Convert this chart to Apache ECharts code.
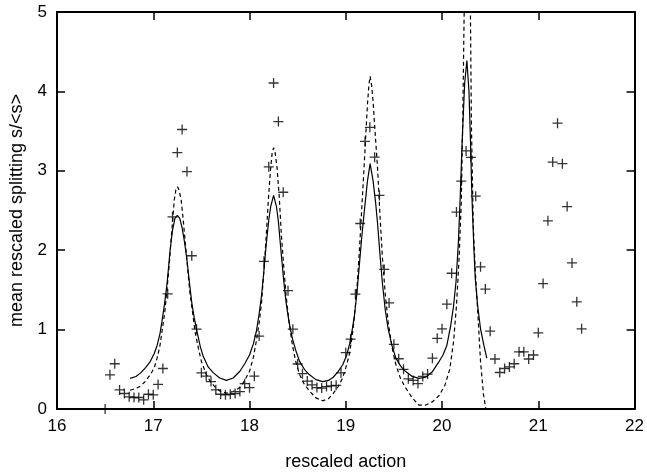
<!DOCTYPE html>
<html>
<head>
<meta charset="utf-8">
<script src="https://cdn.jsdelivr.net/npm/echarts@6/dist/echarts.min.js"></script>
<style>
html,body{margin:0;padding:0;background:#fff;}
#chart{width:647px;height:476px;}
</style>
</head>
<body>
<div id="chart"></div>
<script>
var xTicks = [16, 17, 18, 19, 20, 21, 22];
var yTicks = [0, 1, 2, 3, 4, 5];

var pointsX = [16.5,16.55,16.6,16.65,16.7,16.75,16.8,16.85,16.9,16.95,17.0,17.05,17.1,17.15,17.2,17.25,17.3,17.35,17.4,17.45,17.5,17.55,17.6,17.65,17.7,17.75,17.8,17.85,17.9,17.95,18.0,18.05,18.1,18.15,18.2,18.25,18.3,18.35,18.4,18.45,18.5,18.55,18.6,18.65,18.7,18.75,18.8,18.85,18.9,18.95,19.0,19.05,19.1,19.15,19.2,19.25,19.3,19.35,19.4,19.45,19.5,19.55,19.6,19.65,19.7,19.75,19.8,19.85,19.9,19.95,20.0,20.05,20.1,20.15,20.2,20.25,20.3,20.35,20.4,20.45,20.5,20.55,20.6,20.65,20.7,20.75,20.8,20.85,20.9,20.95,21.0,21.05,21.1,21.15,21.2,21.25,21.3,21.35,21.4,21.45];
var pointsY = [0.0,0.43,0.57,0.24,0.195,0.153,0.145,0.145,0.116,0.186,0.178,0.31,0.51,1.45,2.42,3.23,3.52,2.99,1.93,1.005,0.455,0.413,0.345,0.242,0.186,0.178,0.186,0.195,0.22,0.319,0.269,0.413,0.918,1.86,3.05,4.106,3.62,2.73,1.49,1.005,0.567,0.445,0.352,0.304,0.27,0.263,0.283,0.29,0.298,0.455,0.71,0.88,1.448,2.336,3.37,3.548,3.172,2.69,1.758,1.336,0.815,0.633,0.5,0.38,0.36,0.32,0.41,0.44,0.64,0.89,1.01,1.32,1.71,2.48,2.87,3.25,3.17,2.68,1.79,1.51,0.98,0.63,0.46,0.51,0.53,0.57,0.72,0.72,0.63,0.68,0.96,1.58,2.37,3.11,3.6,3.09,2.55,1.84,1.35,1.01];

var solidX = [16.76,16.82,16.87,16.92,16.97,17.01,17.04,17.07,17.09,17.12,17.145,17.175,17.2,17.225,17.25,17.275,17.3,17.325,17.35,17.375,17.4,17.425,17.455,17.49,17.52,17.57,17.625,17.69,17.76,17.83,17.9,17.95,18.0,18.04,18.07,18.1,18.125,18.15,18.175,18.2,18.22,18.25,18.28,18.3,18.33,18.355,18.38,18.41,18.445,18.48,18.52,18.57,18.62,18.69,18.76,18.82,18.87,18.92,18.97,19.01,19.04,19.07,19.09,19.115,19.14,19.165,19.19,19.225,19.253,19.284,19.31,19.33,19.355,19.38,19.41,19.44,19.48,19.52,19.57,19.62,19.69,19.76,19.83,19.9,19.96,20.01,20.05,20.09,20.12,20.145,20.17,20.19,20.21,20.235,20.258,20.28,20.295,20.31,20.33,20.345,20.37,20.4,20.435,20.465];
var solidY = [0.385,0.41,0.455,0.52,0.6,0.7,0.8,0.95,1.1,1.35,1.6,2.0,2.25,2.4,2.44,2.4,2.28,2.1,1.88,1.6,1.34,1.15,0.97,0.78,0.66,0.53,0.455,0.39,0.36,0.39,0.475,0.57,0.68,0.82,0.97,1.2,1.43,1.75,2.09,2.38,2.55,2.69,2.55,2.36,1.95,1.62,1.34,1.1,0.89,0.74,0.6,0.5,0.434,0.37,0.345,0.36,0.4,0.47,0.56,0.68,0.82,1.02,1.18,1.45,1.8,2.15,2.46,2.87,3.09,2.87,2.6,2.34,1.95,1.59,1.25,1.01,0.8,0.64,0.54,0.475,0.41,0.385,0.4,0.47,0.58,0.68,0.8,1.05,1.3,1.6,2.1,2.7,3.4,4.1,4.39,4.0,3.4,2.7,2.05,1.65,1.3,1.01,0.8,0.64];

var dashedX = [16.76,16.82,16.87,16.92,16.97,17.01,17.04,17.07,17.09,17.12,17.143,17.165,17.185,17.2,17.218,17.235,17.253,17.27,17.29,17.31,17.33,17.355,17.38,17.41,17.435,17.47,17.5,17.55,17.59,17.64,17.69,17.76,17.83,17.9,17.95,18.0,18.04,18.07,18.1,18.125,18.15,18.175,18.195,18.217,18.235,18.25,18.265,18.286,18.31,18.33,18.355,18.38,18.41,18.445,18.48,18.52,18.57,18.623,18.69,18.76,18.82,18.864,18.92,18.967,19.0,19.036,19.065,19.088,19.115,19.14,19.165,19.19,19.21,19.225,19.24,19.253,19.268,19.284,19.305,19.33,19.355,19.38,19.41,19.44,19.48,19.52,19.57,19.62,19.69,19.76,19.83,19.9,19.97,20.03,20.08,20.12,20.15,20.175,20.2,20.215,20.23,20.258,20.295,20.305,20.325,20.345,20.365,20.4,20.43,20.455];
var dashedY = [0.236,0.26,0.29,0.35,0.434,0.52,0.64,0.8,0.97,1.22,1.51,1.8,2.13,2.35,2.63,2.76,2.8,2.75,2.63,2.4,2.13,1.8,1.47,1.2,0.97,0.76,0.6,0.44,0.35,0.28,0.227,0.2,0.22,0.27,0.36,0.475,0.65,0.85,1.08,1.34,1.75,2.21,2.62,3.0,3.22,3.29,3.24,3.04,2.65,2.21,1.8,1.43,1.1,0.81,0.6,0.434,0.31,0.227,0.14,0.103,0.13,0.186,0.28,0.39,0.52,0.68,0.9,1.14,1.5,1.96,2.5,3.04,3.5,3.83,4.08,4.19,4.08,3.87,3.48,3.04,2.45,1.92,1.45,1.1,0.78,0.56,0.38,0.27,0.14,0.05,0.05,0.09,0.17,0.3,0.5,0.85,1.3,1.85,2.6,3.6,5.0,12,5.0,3.6,2.3,1.75,1.35,0.6,0.19,0.0];

function zip(a, b) { return a.map(function (v, i) { return [v, b[i]]; }); }

var fontFam = '"Liberation Sans", Arial, sans-serif';
var chart = echarts.init(document.getElementById('chart'), null, {renderer: 'canvas'});

var baseX = {
  type: 'value', min: 16, max: 22, interval: 1,
  axisLine: {show: true, onZero: false, lineStyle: {color: '#000', width: 2}},
  axisTick: {show: true, inside: true, length: 8, lineStyle: {color: '#000', width: 1.5}},
  splitLine: {show: false}
};
var baseY = {
  type: 'value', min: 0, max: 5, interval: 1,
  axisLine: {show: true, onZero: false, lineStyle: {color: '#000', width: 2}},
  axisTick: {show: true, inside: true, length: 8, lineStyle: {color: '#000', width: 1.5}},
  splitLine: {show: false}
};

var option = {
  animation: false,
  backgroundColor: '#fff',
  grid: {left: 56, right: 10, top: 12, bottom: 61, containLabel: false},
  xAxis: [
    Object.assign({}, baseX, {
      position: 'bottom',
      name: 'rescaled action', nameLocation: 'middle', nameGap: 44,
      nameTextStyle: {color: '#000', fontSize: 18, fontFamily: fontFam},
      axisLabel: {color: '#000', fontSize: 17, fontFamily: fontFam, margin: 9,
        formatter: function (v) { return xTicks.indexOf(v) >= 0 ? String(v) : ''; }}
    }),
    Object.assign({}, baseX, {position: 'top', axisLabel: {show: false}})
  ],
  yAxis: [
    Object.assign({}, baseY, {
      position: 'left',
      name: 'mean rescaled splitting s/<s>', nameLocation: 'middle', nameGap: 31, nameRotate: 90,
      nameTextStyle: {color: '#000', fontSize: 18, fontFamily: fontFam},
      axisLabel: {color: '#000', fontSize: 17, fontFamily: fontFam, margin: 10,
        formatter: function (v) { return yTicks.indexOf(v) >= 0 ? String(v) : ''; }}
    }),
    Object.assign({}, baseY, {position: 'right', axisLabel: {show: false}})
  ],
  series: [
    {
      type: 'line', data: zip(solidX, solidY), showSymbol: false, symbol: 'none',
      clip: true, smooth: false,
      lineStyle: {color: '#000', width: 1.2, type: 'solid'}
    },
    {
      type: 'line', data: zip(dashedX, dashedY), showSymbol: false, symbol: 'none',
      clip: true, smooth: false,
      lineStyle: {color: '#000', width: 1.2, type: [4, 3]}
    },
    {
      type: 'scatter', data: zip(pointsX, pointsY), clip: false,
      symbol: 'path://M0,4.35h10v1.3h-10z M4.35,0h1.3v10h-1.3z',
      symbolSize: 10,
      itemStyle: {color: '#000', borderWidth: 0}
    }
  ]
};
chart.setOption(option);
</script>
</body>
</html>
